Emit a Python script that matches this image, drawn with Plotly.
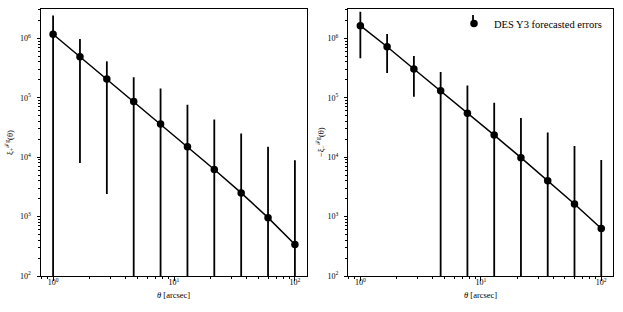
import plotly.graph_objects as go

# ---- data ----
theta = [1.0, 1.668, 2.783, 4.642, 7.743, 12.92, 21.54, 35.94, 59.95, 100.0]
xi_plus = [1.17e6, 4.9e5, 2.06e5, 8.6e4, 3.6e4, 1.5e4, 6.2e3, 2.5e3, 9.6e2, 3.4e2]
xi_plus_err = [1.25e6, 4.82e5, 2.036e5, 1.35e5, 1.07e5, 6.1e4, 3.7e4, 2.25e4, 1.4e4, 8.5e3]
xi_minus = [1.63e6, 7.2e5, 3.04e5, 1.31e5, 5.5e4, 2.35e4, 9.8e3, 4.0e3, 1.63e3, 6.3e2]
xi_minus_err = [1.17e6, 4.6e5, 2.0e5, 1.4e5, 1.05e5, 5.9e4, 3.6e4, 2.2e4, 1.37e4, 8.3e3]

x_tickvals = [1, 10, 100]
x_ticktext = ["10<sup>0</sup>", "10<sup>1</sup>", "10<sup>2</sup>"]
y_tickvals = [1e2, 1e3, 1e4, 1e5, 1e6]
y_ticktext = ["10<sup>2</sup>", "10<sup>3</sup>", "10<sup>4</sup>", "10<sup>5</sup>", "10<sup>6</sup>"]
legend_label = "DES Y3 forecasted errors"
x_title = "<i>θ</i> [arcsec]"
y_titles = ["ξ<sub>+</sub><sup>ℱg</sup>(θ)", "−ξ<sub>−</sub><sup>ℱg</sup>(θ)"]

W, H = 623, 312
T, B = 9, 36
PH = H - T - B
FONT = "Liberation Serif, DejaVu Serif, serif"

x_minor = [m * 10 ** e for e in range(-1, 3) for m in range(2, 10)]
y_minor = [m * 10 ** e for e in range(1, 7) for m in range(2, 10)]

doms = [[41 / W, 307 / W], [348.3 / W, 613.3 / W]]

fig = go.Figure()

panels = [
    (xi_plus, xi_plus_err, "x", "y", False),
    (xi_minus, xi_minus_err, "x2", "y2", True),
]
for vals, errs, xa, ya, show in panels:
    fig.add_trace(go.Scatter(
        x=theta, y=vals, mode="lines", xaxis=xa, yaxis=ya,
        line=dict(color="black", width=1.5), showlegend=False, hoverinfo="skip"))
    fig.add_trace(go.Scatter(
        x=theta, y=vals, mode="markers", xaxis=xa, yaxis=ya,
        marker=dict(color="black", size=7.5),
        error_y=dict(type="data", array=errs, visible=True, color="black",
                     thickness=1.8, width=0),
        name=legend_label, showlegend=show))

common_x = dict(
    type="log", range=[-0.1, 2.1], tickmode="array", tickvals=x_tickvals,
    ticktext=x_ticktext, ticks="outside", ticklen=3.5, tickwidth=0.8,
    tickcolor="black", showline=True, linecolor="black", linewidth=1,
    mirror=True, showgrid=False, zeroline=False, ticklabelstandoff=-5,
    tickfont=dict(family=FONT, size=8, color="black"),
    minor=dict(tickmode="array", tickvals=x_minor, ticks="outside",
               ticklen=2, tickwidth=0.6, tickcolor="black", showgrid=False),
)
common_y = dict(
    type="log", range=[2, 6.493], tickmode="array", tickvals=y_tickvals,
    ticktext=y_ticktext, ticks="outside", ticklen=3.5, tickwidth=0.8,
    tickcolor="black", showline=True, linecolor="black", linewidth=1,
    mirror=True, showgrid=False, zeroline=False, ticklabelstandoff=4,
    tickfont=dict(family=FONT, size=8, color="black"),
    minor=dict(tickmode="array", tickvals=y_minor, ticks="outside",
               ticklen=2, tickwidth=0.6, tickcolor="black", showgrid=False),
)

annotations = []
for i, d in enumerate(doms):
    annotations.append(dict(
        text=x_title, xref="paper", yref="paper", x=(d[0] + d[1]) / 2,
        y=(H - B - 295) / PH, xanchor="center", yanchor="middle", showarrow=False,
        font=dict(family=FONT, size=8.5, color="black")))
for px, txt in zip([9.5, 320.5], y_titles):
    annotations.append(dict(
        text=txt, xref="paper", yref="paper", x=px / W, y=0.5, textangle=-90,
        xanchor="center", yanchor="middle", showarrow=False,
        font=dict(family=FONT, size=8.5, color="black")))

# error-bar stroke for the legend symbol
shapes = [dict(type="line", xref="paper", yref="paper",
               x0=473 / W, x1=473 / W, y0=(H - B - 15) / PH, y1=(H - B - 27) / PH,
               line=dict(color="black", width=1.8))]

fig.update_layout(
    width=W, height=H,
    margin=dict(l=0, r=0, t=T, b=B),
    paper_bgcolor="white", plot_bgcolor="white",
    font=dict(family=FONT, color="black"),
    xaxis=dict(domain=doms[0], anchor="y", **common_x),
    xaxis2=dict(domain=doms[1], anchor="y2", **common_x),
    yaxis=dict(domain=[0, 1], anchor="x", **common_y),
    yaxis2=dict(domain=[0, 1], anchor="x2", **common_y),
    showlegend=True,
    legend=dict(x=607 / W, xanchor="right", y=1, yanchor="top",
                bgcolor="rgba(0,0,0,0)", font=dict(family=FONT, size=10.5, color="black"),
                itemwidth=30),
    annotations=annotations,
    shapes=shapes,
)

fig.write_html("out.html", config={"displayModeBar": False},
               post_script="document.body.style.margin='0';document.body.style.overflow='hidden';")
